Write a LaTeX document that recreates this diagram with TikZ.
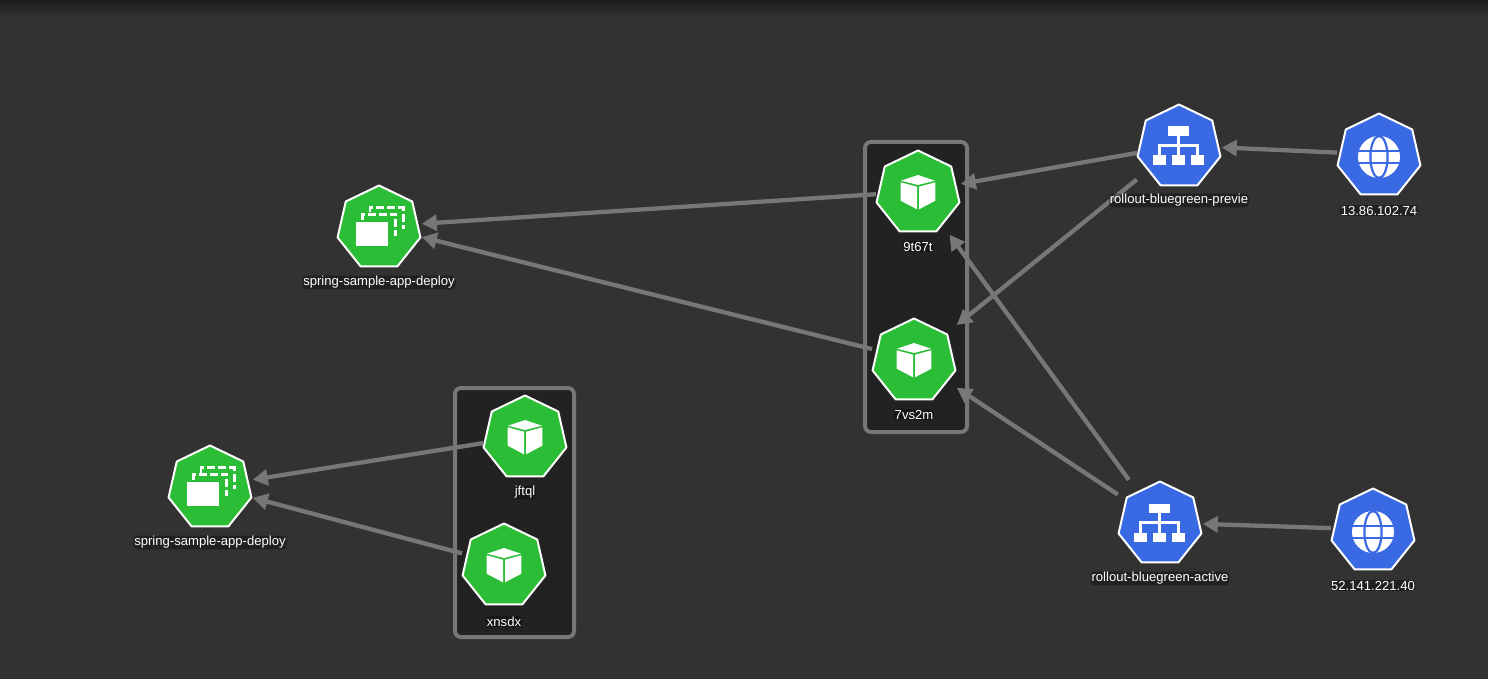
\documentclass[tikz,border=0pt]{standalone}
\usepackage{fontspec}
\setmainfont{Liberation Sans}
\usetikzlibrary{shapes.geometric,arrows.meta,calc}
\definecolor{bgc}{HTML}{323232}
\definecolor{topc}{HTML}{1E1E1E}
\definecolor{boxc}{HTML}{222222}
\definecolor{linec}{HTML}{777777}
\definecolor{grn}{HTML}{2BBD35}
\definecolor{blu}{HTML}{3A6AE3}
\tikzset{
  x=1pt,y=-1pt,
  hepta/.style={regular polygon,regular polygon sides=7,minimum size=85pt,inner sep=0pt,outer sep=0pt,draw=white,line width=2pt,line join=round},
  podshape/.style={hepta,fill=grn},
  svcshape/.style={hepta,fill=blu},
  bbox/.style={rectangle,minimum width=84pt,minimum height=85pt,inner sep=0pt,outer sep=.8pt},
  grp/.style={draw=linec,fill=boxc,line width=4pt,rounded corners=6pt},
  edge/.style={draw=linec,line width=4.3pt,shorten <=-.8pt,-{Triangle[length=15pt,width=16pt]}},
  lbl/.style={text=white,font=\fontsize{13.1pt}{14pt}\selectfont,inner sep=.8pt,fill=black,fill opacity=.33,text opacity=1,rounded corners=4pt},
}
\newcommand{\heptaat}[2]{\node[#2] (#1-h) at ($(#1.center)+(0,1.5)$) {};}
\newcommand{\cubeicon}[1]{\heptaat{#1}{podshape}\begin{scope}[shift={($(#1.center)+(0,1.5)$)}]
  \fill[white] (0,-18) -- (17,-12.3) -- (0,-8) -- (-17,-12.3) -- cycle;
  \fill[white] (-17.3,-10.7) -- (-1,-6.3) -- (-1,16.3) -- (-17.3,7.7) -- cycle;
  \fill[white] (17.3,-10.7) -- (1,-6.3) -- (1,16.3) -- (17.3,7.7) -- cycle;
\end{scope}}
\newcommand{\deployicon}[1]{\heptaat{#1}{podshape}\begin{scope}[shift={($(#1.center)+(0,1.5)$)}]
  \draw[white,line width=2.6pt,dash pattern=on 8pt off 3pt] (-16.7,-8) -- (-16.7,-13.7) -- (16.7,-13.7) -- (16.7,8);
  \draw[white,line width=2.6pt,dash pattern=on 8pt off 3pt] (-9,-15.5) -- (-9,-20.3) -- (24.3,-20.3) -- (24.3,0.5);
  \fill[white] (-23.3,-6) rectangle (9.3,17.5);
\end{scope}}
\newcommand{\neticon}[1]{\heptaat{#1}{svcshape}\begin{scope}[shift={($(#1.center)+(0,1.5)$)}]
  \fill[white] (-11,-20.5) rectangle (10,-11);
  \fill[white] (-25.7,8.5) rectangle (-13,18);
  \fill[white] (-7,8.5) rectangle (6,18);
  \fill[white] (12,8.5) rectangle (25,18);
  \draw[white,line width=2.2pt] (-0.5,-11) -- (-0.5,8.5) (-19.5,8.5) -- (-19.5,-1.5) -- (18.5,-1.5) -- (18.5,8.5);
\end{scope}}
\newcommand{\globeicon}[1]{\heptaat{#1}{svcshape}\begin{scope}[shift={($(#1.center)+(0,1.5)$)}]
  \fill[white] (0,1) circle[radius=21];
  \draw[blu,line width=2.2pt] (0,1) ellipse[x radius=8.6,y radius=21];
  \draw[blu,line width=2.2pt] (-22,-5.2) -- (22,-5.2) (-22,7.2) -- (22,7.2);
\end{scope}}
\begin{document}
\begin{tikzpicture}
\useasboundingbox (0,0) rectangle (1488,679);
\fill[bgc] (0,0) rectangle (1488,679);
\shade[top color=topc,bottom color=bgc] (0,0) rectangle (1488,17);
% groups
\draw[grp] (865,142) rectangle (967,432);
\draw[grp] (455,388) rectangle (574,637);
% nodes
\node[bbox] (d1) at (379,226.5) {};
\node[bbox] (d2) at (210,486.5) {};
\node[bbox] (p1) at (918,191.5) {};
\node[bbox] (p2) at (914,359.5) {};
\node[bbox] (p3) at (525,436.5) {};
\node[bbox] (p4) at (504,564.5) {};
\node[bbox] (s1) at (1179,145.5) {};
\node[bbox] (s2) at (1160,522.5) {};
\node[bbox] (g1) at (1379,154.5) {};
\node[bbox] (g2) at (1373,529.5) {};
% icons
\deployicon{d1}\deployicon{d2}
\cubeicon{p1}\cubeicon{p2}\cubeicon{p3}\cubeicon{p4}
\neticon{s1}\neticon{s2}
\globeicon{g1}\globeicon{g2}
% edges
\draw[edge] (p1) -- (d1);
\draw[edge] (p2) -- (d1);
\draw[edge] (p3) -- (d2);
\draw[edge] (p4) -- (d2);
\draw[edge] (s1) -- (p1);
\draw[edge] (s1) -- (p2);
\draw[edge] (s2) -- (p1);
\draw[edge] (s2) -- (p2);
\draw[edge] (g1) -- (s1);
\draw[edge] (g2) -- (s2);
% labels
\node[lbl] (l1) at (379,282.5) {spring-sample-app-deploy};
\node[lbl] (l2) at (210,542.5) {spring-sample-app-deploy};
\node[lbl] (l3) at (918,246.5) {9t67t};
\node[lbl] (l4) at (914,414.5) {7vs2m};
\node[lbl] (l5) at (525,492.5) {jftql};
\node[lbl] (l6) at (504,621.5) {xnsdx};
\node[lbl] (l7) at (1179,200.5) {rollout-bluegreen-previe};
\node[lbl] (l8) at (1160,578.5) {rollout-bluegreen-active};
\node[lbl] (l9) at (1379,210.5) {13.86.102.74};
\node[lbl] (l10) at (1373,585.5) {52.141.221.40};
\end{tikzpicture}
\end{document}
